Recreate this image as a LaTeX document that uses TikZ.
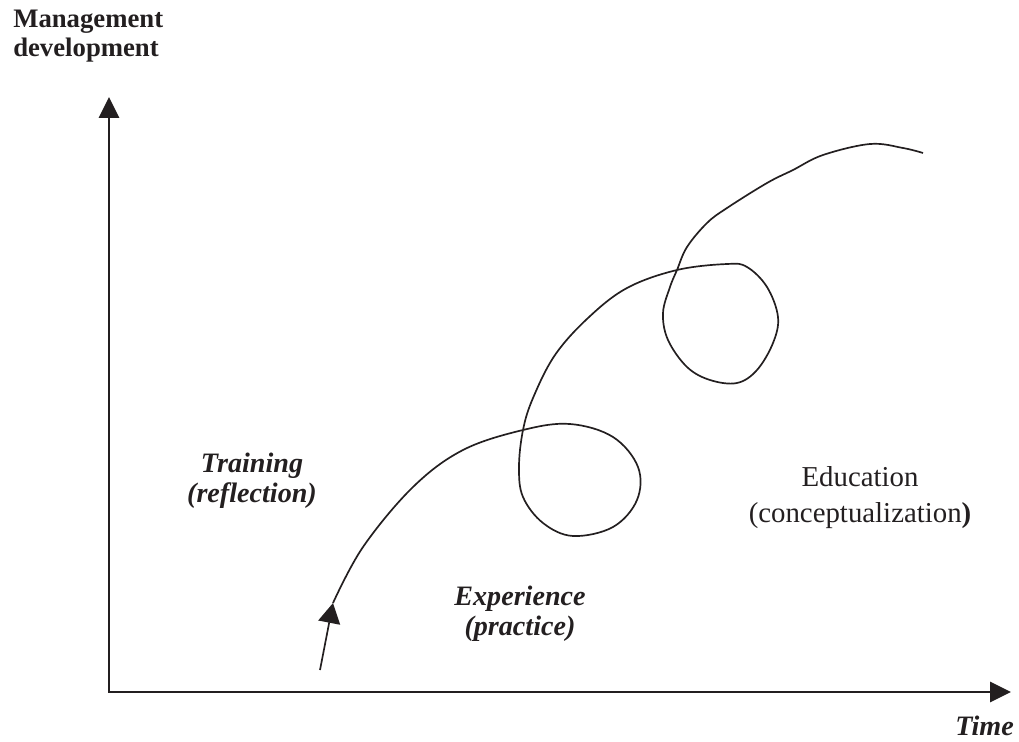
\documentclass[tikz,border=0pt]{standalone}
\usepackage{fontspec}
\setmainfont{Liberation Serif}
\usetikzlibrary{arrows.meta}
\definecolor{ink}{HTML}{231F20}
\tikzset{
	axis/.style={ink, line width=1.5pt, {Triangle[length=0.52cm,width=0.5cm]}-{Triangle[length=0.52cm,width=0.5cm]}},
	path/.style={ink, line width=1.2pt},
	lbl/.style={ink, inner sep=0pt, align=center, font=\fontsize{20}{21.5}\selectfont\bfseries\itshape},
}
\begin{document}
\begin{tikzpicture}[x=0.025cm, y=-0.025cm]
		\useasboundingbox (0,0) rectangle (1019,742);
		% axes
		\coordinate (O) at (109,692);
		\coordinate (Y) at (109,97);
		\coordinate (X) at (1011,692);
		\draw[axis] (Y) -- (O) -- (X);
		\node[ink, inner sep=0pt, anchor=north west, align=left, font=\fontsize{19}{20.5}\selectfont\bfseries] (M) at (13,10) {Management\\development};
		\node[lbl, anchor=base east] (T) at (1014,735) {Time};
		
		% the path
		\coordinate (S) at (320,670);
		\coordinate (A) at (333,603);
		\draw[path, -{Triangle[length=0.5cm,width=0.55cm]}] (S) -- (A);
		\draw[path] plot[smooth, tension=0.6] coordinates {(333,603) (363,547) (413,487) (463,450) (523,430) (570,424) (613,437) (638,467) (637,500) (613,527) (573,536) (543,523) (523,497) (519,467) (523,430) (533,398) (555,355) (588,318) (627,288) (677,270) (727,264) (747,267) (767,287) (778,317) (773,343) (757,370) (737,383) (710,380) (687,367) (668,340) (663,313) (670,287) (677,270) (687,247) (707,223) (727,208) (767,183) (793,170) (823,155) (870,144) (903,148) (923,153)};
		
		% labels
		\node[lbl] (Tr) at (252,481) {Training\\(reflection)};
		\node[lbl] (Ex) at (520,614) {Experience\\(practice)};
		\node[ink, inner sep=0pt, align=center, font=\fontsize{20.5}{25.6}\selectfont] (Ed) at (860,498) {Education\\(conceptualization\textbf{)}};
\end{tikzpicture}
\end{document}
